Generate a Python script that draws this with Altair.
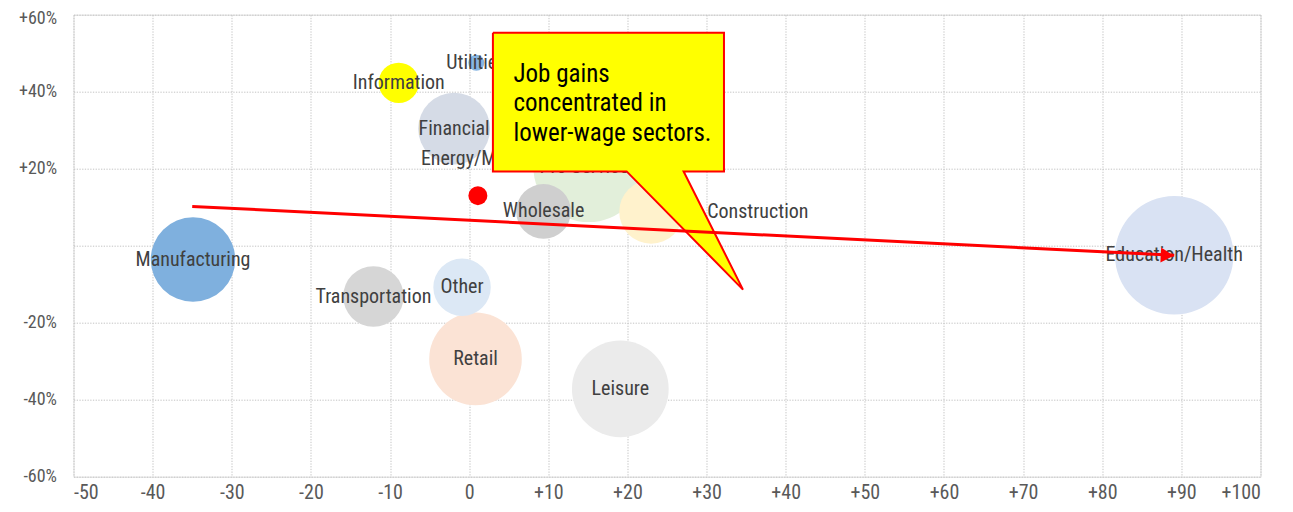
import altair as alt
import pandas as pd

# ---- data ----
sectors = ["Education/Health", "Pro Services", "Leisure", "Retail", "Manufacturing",
           "Financial", "Construction", "Transportation", "Other", "Wholesale",
           "Information", "Energy/Mining", "Utilities"]
wage_change = [89.1, 15.1, 19.1, 0.8, -34.9, -1.9, 23.0, -12.1, -0.9, 9.4, -8.9, 1.1, 0.9]
job_change = [-2.5, 20.5, -37.2, -29.4, -3.6, 30.4, 8.8, -13.2, -10.8, 8.9, 42.3, 13.0, 47.5]
jobs = [23.4, 20.4, 15.6, 14.3, 11.9, 8.6, 6.8, 6.1, 5.5, 5.0, 2.7, 0.6, 0.43]
palette = ["#d9e2f3", "#e2efda", "#ebebeb", "#fbe3d5", "#7fb0de", "#d5dbe6", "#fff2cc",
           "#d6d6d6", "#dce8f5", "#cfcfcf", "#ffff00", "#ff0000", "#88b6e3"]

trend_x = [-35.0, 89.1]
trend_y = [10.2, -2.5]

callout_x = [3.0, 32.2, 32.2, 27.1, 34.6, 19.9, 3.0, 3.0]
callout_y = [55.3, 55.3, 19.3, 19.3, -11.4, 19.3, 19.3, 55.3]
callout_text = "Job gains\nconcentrated in\nlower-wage sectors."
callout_text_pos = (5.6, 42.6)

x_ticks = list(range(-50, 101, 10))
y_ticks = list(range(-60, 61, 20))

FONT = "Liberation Sans Narrow, Roboto Condensed, DejaVu Sans Condensed, Arial Narrow, sans-serif"

bubbles = pd.DataFrame({"sector": sectors, "x": wage_change, "y": job_change, "jobs": jobs})
trend = pd.DataFrame({"x": trend_x, "y": trend_y})
arrow = trend.iloc[[1]]
callout = pd.DataFrame({"x": callout_x, "y": callout_y, "i": list(range(len(callout_x)))})
ctext = pd.DataFrame({"x": [callout_text_pos[0]], "y": [callout_text_pos[1]], "t": [callout_text]})

xs = alt.Scale(domain=[-50, 100], nice=False, zero=False)
ys = alt.Scale(domain=[-60, 60], nice=False, zero=False)

xaxis = alt.Axis(values=x_ticks, title=None, domain=False, ticks=False,
                 grid=True, gridColor="#c4c4c4", gridDash=[1.3, 1.4], gridWidth=1,
                 labelFont=FONT, labelFontSize=20, labelColor="#595959", labelPadding=6,
                 labelExpr="datum.value > 0 ? '+' + datum.value : '' + datum.value")
yaxis = alt.Axis(values=y_ticks, title=None, domain=False, ticks=False,
                 grid=True, gridColor="#c4c4c4", gridDash=[1.3, 1.4], gridWidth=1,
                 labelFont=FONT, labelFontSize=18, labelColor="#595959", labelPadding=17,
                 labelOffset=alt.condition("datum.value == 60", alt.value(4), alt.value(0)),
                 labelExpr="datum.value == 0 ? '' : (datum.value > 0 ? '+' : '') + datum.value + '%'")

X = alt.X("x:Q", scale=xs, axis=xaxis)
Y = alt.Y("y:Q", scale=ys, axis=yaxis)

base = alt.Chart(bubbles)

circles = base.mark_circle(opacity=1).encode(
    x=X, y=Y,
    size=alt.Size("jobs:Q", scale=alt.Scale(domain=[0, 25], range=[0, 15000]), legend=None),
    color=alt.Color("sector:N", scale=alt.Scale(domain=sectors, range=palette), legend=None),
    order=alt.Order("jobs:Q", sort="descending"),
)

lbl_props = dict(font=FONT, fontSize=20, color="#404040", baseline="middle")
labels = base.mark_text(align="center", **lbl_props).encode(
    x=X, y=Y, text="sector:N"
).transform_filter("datum.sector != 'Energy/Mining' && datum.sector != 'Construction'")

label_energy = base.mark_text(align="center", dy=-37, **lbl_props).encode(
    x=X, y=Y, text="sector:N"
).transform_filter("datum.sector == 'Energy/Mining'")

label_constr = base.mark_text(align="left", dx=56, **lbl_props).encode(
    x=X, y=Y, text="sector:N"
).transform_filter("datum.sector == 'Construction'")

bubble_poly = alt.Chart(callout).mark_line(
    fill="#ffff00", stroke="#ff0000", strokeWidth=2, strokeJoin="miter"
).encode(x=X, y=Y, order="i:Q")

bubble_text = alt.Chart(ctext).mark_text(
    align="left", baseline="alphabetic", font=FONT, fontSize=25, lineHeight=29.5,
    lineBreak="\n", color="#000000"
).encode(x=X, y=Y, text="t:N")

trend_line = alt.Chart(trend).mark_line(color="#ff0000", strokeWidth=3).encode(x=X, y=Y)
arrow_head = alt.Chart(arrow).mark_point(
    shape="triangle-right", filled=True, color="#ff0000", size=220, angle=3, xOffset=-7, opacity=1
).encode(x=X, y=Y)

chart = alt.layer(
    circles, labels, label_energy, label_constr, bubble_poly, bubble_text, trend_line, arrow_head
).properties(
    width=1187, height=462,
    autosize=alt.AutoSizeParams(type="none"),
    padding={"left": 65.5, "top": 6.7, "right": 22, "bottom": 27},
).configure_view(stroke=None).configure(background="#ffffff")

chart.save("out.html", embed_options={"renderer": "svg", "actions": False})
